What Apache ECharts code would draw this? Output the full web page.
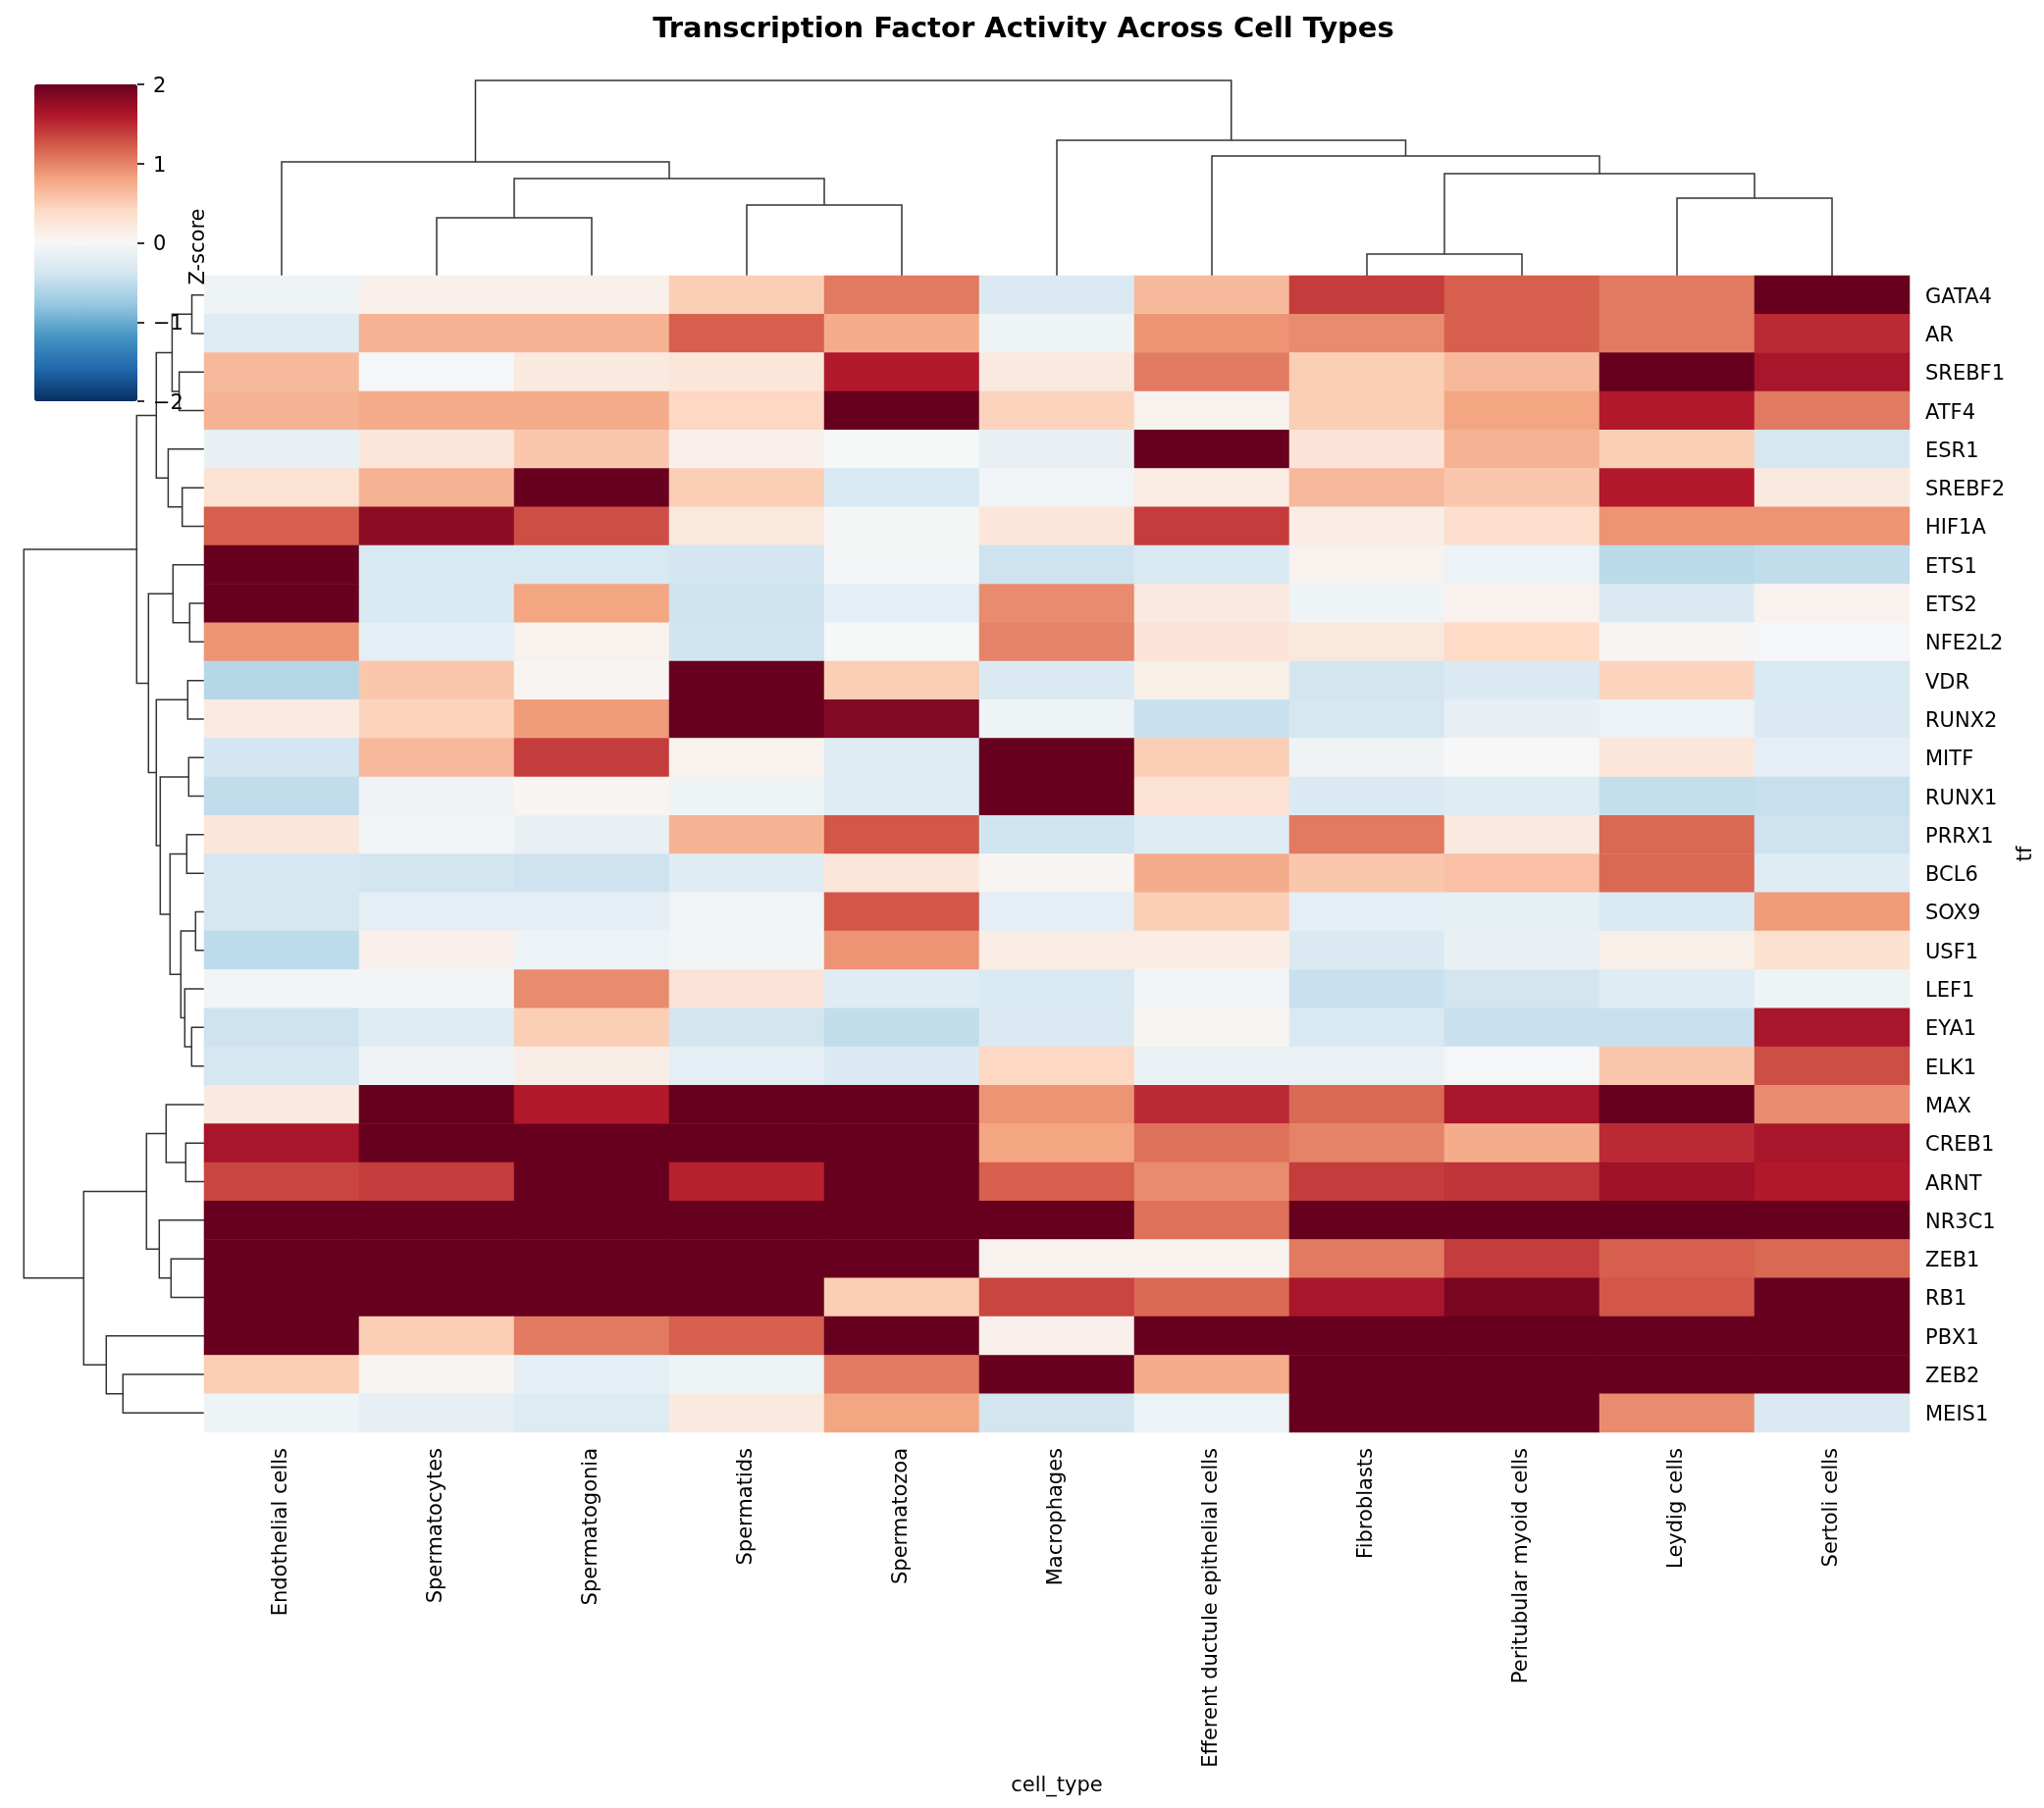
<!DOCTYPE html>
<html>
<head>
<meta charset="utf-8">
<title>Transcription Factor Activity Across Cell Types</title>
<script src="https://cdn.jsdelivr.net/npm/echarts@6/dist/echarts.min.js"></script>
<style>
  html, body { margin: 0; padding: 0; background: #fff; }
  #main { width: 2083px; height: 1843px; }
</style>
</head>
<body>
<div id="main"></div>
<script>
var cellTypes = ['Endothelial cells', 'Spermatocytes', 'Spermatogonia', 'Spermatids', 'Spermatozoa', 'Macrophages',
    'Efferent ductule epithelial cells', 'Fibroblasts', 'Peritubular myoid cells', 'Leydig cells', 'Sertoli cells'];
var tfNames = ['GATA4', 'AR', 'SREBF1', 'ATF4', 'ESR1', 'SREBF2', 'HIF1A', 'ETS1', 'ETS2', 'NFE2L2', 'VDR', 'RUNX2', 'MITF',
    'RUNX1', 'PRRX1', 'BCL6', 'SOX9', 'USF1', 'LEF1', 'EYA1', 'ELK1', 'MAX', 'CREB1', 'ARNT', 'NR3C1', 'ZEB1', 'RB1',
    'PBX1', 'ZEB2', 'MEIS1'];
// one row per tf, same order as cellTypes
var zScores = [
    [-0.1, 0.1, 0.1, 0.5, 1.05, -0.3, 0.65, 1.4, 1.2, 1.05, 2],
    [-0.25, 0.7, 0.7, 1.2, 0.75, -0.1, 0.9, 0.95, 1.2, 1.05, 1.5],
    [0.65, -0.02, 0.2, 0.25, 1.6, 0.2, 1.05, 0.5, 0.65, 2, 1.65],
    [0.7, 0.75, 0.75, 0.42, 2, 0.45, 0.07, 0.5, 0.8, 1.6, 1.05],
    [-0.15, 0.25, 0.55, 0.1, -0.01, -0.15, 2, 0.27, 0.7, 0.5, -0.35],
    [0.3, 0.7, 2, 0.5, -0.32, -0.07, 0.17, 0.65, 0.55, 1.6, 0.2],
    [1.2, 1.8, 1.3, 0.22, -0.03, 0.25, 1.4, 0.15, 0.35, 0.9, 0.9],
    [2, -0.32, -0.32, -0.37, -0.04, -0.42, -0.32, 0.07, -0.12, -0.54, -0.5],
    [2, -0.32, 0.8, -0.42, -0.2, 0.95, 0.2, -0.1, 0.08, -0.3, 0.07],
    [0.9, -0.2, 0.08, -0.4, -0.01, 1.0, 0.27, 0.22, 0.4, 0.03, -0.02],
    [-0.58, 0.55, 0.05, 2, 0.5, -0.3, 0.12, -0.38, -0.3, 0.45, -0.32],
    [0.18, 0.45, 0.85, 2, 1.85, -0.1, -0.45, -0.35, -0.17, -0.12, -0.3],
    [-0.37, 0.65, 1.4, 0.08, -0.25, 2, 0.5, -0.08, 0.0, 0.25, -0.2],
    [-0.5, -0.08, 0.05, -0.1, -0.25, 2, 0.3, -0.3, -0.25, -0.48, -0.46],
    [0.25, -0.05, -0.15, 0.7, 1.25, -0.4, -0.25, 1.05, 0.2, 1.15, -0.42],
    [-0.35, -0.38, -0.42, -0.25, 0.25, 0.05, 0.75, 0.55, 0.6, 1.15, -0.25],
    [-0.35, -0.2, -0.2, -0.07, 1.25, -0.2, 0.5, -0.2, -0.18, -0.32, 0.85],
    [-0.52, 0.1, -0.12, -0.05, 0.9, 0.15, 0.15, -0.3, -0.15, 0.12, 0.32],
    [-0.05, -0.05, 0.95, 0.27, -0.25, -0.32, -0.07, -0.45, -0.38, -0.25, -0.1],
    [-0.42, -0.25, 0.5, -0.38, -0.5, -0.3, 0.05, -0.32, -0.45, -0.45, 1.65],
    [-0.35, -0.08, 0.13, -0.2, -0.3, 0.42, -0.14, -0.14, -0.02, 0.55, 1.3],
    [0.2, 2, 1.6, 2, 2, 0.9, 1.5, 1.15, 1.65, 2, 0.95],
    [1.65, 2, 2, 2, 2, 0.8, 1.1, 1.0, 0.75, 1.5, 1.65],
    [1.35, 1.4, 2, 1.55, 2, 1.2, 0.95, 1.4, 1.45, 1.7, 1.6],
    [2, 2, 2, 2, 2, 2, 1.1, 2, 2, 2, 2],
    [2, 2, 2, 2, 2, 0.07, 0.07, 1.05, 1.4, 1.2, 1.15],
    [2, 2, 2, 2, 0.5, 1.35, 1.15, 1.65, 1.9, 1.25, 2],
    [2, 0.5, 1.05, 1.2, 2, 0.1, 2, 2, 2, 2, 2],
    [0.5, 0.05, -0.2, -0.1, 1.05, 2, 0.75, 2, 2, 2, 2],
    [-0.1, -0.17, -0.27, 0.2, 0.8, -0.38, -0.12, 2, 2, 0.95, -0.3]
];
// dendrogram merges, scipy style: [a, b, height]. a/b below n are leaves, n+k is the k-th merge
var colMerges = [
    [1, 2, 59], [3, 4, 72], [11, 12, 99], [0, 13, 116],
    [7, 8, 22], [9, 10, 79], [15, 16, 104], [6, 17, 122], [5, 18, 138], [14, 19, 199]
];
var rowMerges = [
    [0, 1, 12.5], [2, 3, 25.4], [30, 31, 32.6], [5, 6, 22.3], [4, 33, 36.6], [32, 34, 48.7],
    [8, 9, 14.7], [7, 36, 31.7], [10, 11, 16.7], [12, 13, 15.7], [14, 15, 17.7], [16, 17, 8.7],
    [19, 20, 12.7], [18, 42, 19.7], [41, 43, 23.7], [40, 44, 34.7], [39, 45, 44.7], [38, 46, 48.7],
    [37, 47, 56.7], [35, 48, 68.7],
    [22, 23, 18.7], [21, 50, 38.7], [25, 26, 33.7], [24, 52, 45.7], [51, 53, 58.7],
    [28, 29, 82.7], [27, 55, 99.7], [54, 56, 122.7], [49, 57, 183.7]
];
var colorStops = ['#053061', '#2166ac', '#4393c3', '#92c5de', '#d1e5f0', '#f7f7f7', '#fddbc7', '#f4a582', '#d6604d', '#b2182b', '#67001f'];
var colorbarTicks = [-2, -1, 0, 1, 2];

var FONT = 'DejaVu Sans';
var TICK = 21;
var box = {left: 208, top: 281, width: 1738, height: 1179};
var bar = {left: 35, top: 86, width: 105, height: 323};
// rich style only nudges the tick text down a bit, like matplotlib places it
var lowered = {padding: [5, 0, 0, 0], fontFamily: FONT, fontSize: TICK, color: '#000'};

// turn merges into [pos1, h1, pos2, h2, h] links
function buildLinks(merges, n) {
    var pos = [], hgt = [];
    for (var i = 0; i < n; i++) { pos.push(i + 0.5); hgt.push(0); }
    return merges.map(function (m) {
        var link = [pos[m[0]], hgt[m[0]], pos[m[1]], hgt[m[1]], m[2]];
        pos.push((pos[m[0]] + pos[m[1]]) / 2);
        hgt.push(m[2]);
        return link;
    });
}

var heatData = [];
zScores.forEach(function (row, y) {
    row.forEach(function (v, x) { heatData.push([x, y, v]); });
});

function hidden(type, min, max, inverse) {
    return {type: type, min: min, max: max, inverse: !!inverse, show: false};
}

var lineStyle = {stroke: '#333333', lineWidth: 1.5, fill: 'none'};

var myChart = echarts.init(document.getElementById('main'));
var option = {
    animation: false,
    backgroundColor: '#ffffff',
    textStyle: {fontFamily: FONT},
    title: {
        text: 'Transcription Factor Activity Across Cell Types',
        left: 1038,
        top: 11,
        textAlign: 'center',
        textStyle: {fontFamily: FONT, fontSize: 29, fontWeight: 'bold', color: '#000'}
    },
    grid: [
        {left: box.left, top: box.top, width: box.width, height: box.height},
        {left: box.left, top: 81, width: box.width, height: box.top - 81},
        {left: 0, top: box.top, width: box.left, height: box.height},
        {left: bar.left, top: bar.top, width: bar.width, height: bar.height}
    ],
    xAxis: [
        {
            type: 'category', data: cellTypes, gridIndex: 0, position: 'bottom',
            name: 'cell_type', nameLocation: 'middle', nameGap: 344,
            nameTextStyle: {fontFamily: FONT, fontSize: TICK, color: '#000'},
            axisLine: {show: false},
            axisTick: {length: 7, alignWithLabel: true, lineStyle: {color: '#000', width: 1.6}},
            axisLabel: {rotate: 90, interval: 0, margin: 16, fontFamily: FONT, fontSize: TICK, color: '#000'},
            splitLine: {show: false}
        },
        Object.assign(hidden('value', 0, cellTypes.length), {gridIndex: 1}),
        Object.assign(hidden('value', 0, 208, true), {gridIndex: 2}),
        Object.assign(hidden('value', 0, 1), {gridIndex: 3})
    ],
    yAxis: [
        {
            type: 'category', data: tfNames, gridIndex: 0, position: 'right', inverse: true,
            name: 'tf', nameLocation: 'middle', nameGap: 105, nameRotate: 90,
            nameTextStyle: {fontFamily: FONT, fontSize: TICK, color: '#000'},
            axisLine: {show: false},
            axisTick: {length: 7, alignWithLabel: true, lineStyle: {color: '#000', width: 1.6}},
            axisLabel: {
                interval: 0, margin: 16, fontFamily: FONT, fontSize: TICK, color: '#000',
                formatter: function (v) { return '{a|' + v + '}'; },
                rich: {a: lowered}
            },
            splitLine: {show: false}
        },
        Object.assign(hidden('value', 0, 200), {gridIndex: 1}),
        Object.assign(hidden('value', 0, tfNames.length, true), {gridIndex: 2}),
        {
            type: 'value', gridIndex: 3, position: 'right', min: colorbarTicks[0], max: colorbarTicks[4], interval: 1,
            name: 'Z-score', nameLocation: 'middle', nameGap: 52, nameRotate: 90,
            nameTextStyle: {fontFamily: FONT, fontSize: TICK, color: '#000', padding: [0, 8, 0, 0]},
            axisLine: {show: false, onZero: false},
            axisTick: {show: true, length: 7, lineStyle: {color: '#000', width: 1.6}},
            axisLabel: {
                margin: 16, fontFamily: FONT, fontSize: TICK, color: '#000',
                formatter: function (v) { return '{a|' + String(v).replace('-', '\u2212') + '}'; },
                rich: {a: lowered}
            },
            splitLine: {show: false},
            z: 8
        }
    ],
    visualMap: {
        type: 'continuous',
        seriesIndex: 0,
        min: -2,
        max: 2,
        left: bar.left,
        top: bar.top,
        padding: 0,
        itemWidth: bar.width,
        itemHeight: bar.height,
        calculable: false,
        hoverLink: false,
        indicatorSize: 0,
        handleSize: 0,
        text: null,
        inRange: {color: colorStops}
    },
    series: [
        {
            type: 'heatmap',
            xAxisIndex: 0,
            yAxisIndex: 0,
            data: heatData,
            itemStyle: {borderWidth: 0},
            emphasis: {disabled: true},
            z: 3
        },
        {
            type: 'custom',
            xAxisIndex: 1,
            yAxisIndex: 1,
            data: buildLinks(colMerges, cellTypes.length),
            encode: {x: [0, 2], y: [1, 3, 4]},
            silent: true,
            clip: false,
            renderItem: function (params, api) {
                var h = api.value(4);
                return {
                    type: 'polyline',
                    shape: {points: [
                        api.coord([api.value(0), api.value(1)]),
                        api.coord([api.value(0), h]),
                        api.coord([api.value(2), h]),
                        api.coord([api.value(2), api.value(3)])
                    ]},
                    style: lineStyle
                };
            }
        },
        {
            type: 'custom',
            xAxisIndex: 2,
            yAxisIndex: 2,
            data: buildLinks(rowMerges, tfNames.length),
            encode: {y: [0, 2], x: [1, 3, 4]},
            silent: true,
            clip: false,
            renderItem: function (params, api) {
                var h = api.value(4);
                return {
                    type: 'polyline',
                    shape: {points: [
                        api.coord([api.value(1), api.value(0)]),
                        api.coord([h, api.value(0)]),
                        api.coord([h, api.value(2)]),
                        api.coord([api.value(3), api.value(2)])
                    ]},
                    style: lineStyle
                };
            }
        }
    ]
};
myChart.setOption(option);
</script>
</body>
</html>
